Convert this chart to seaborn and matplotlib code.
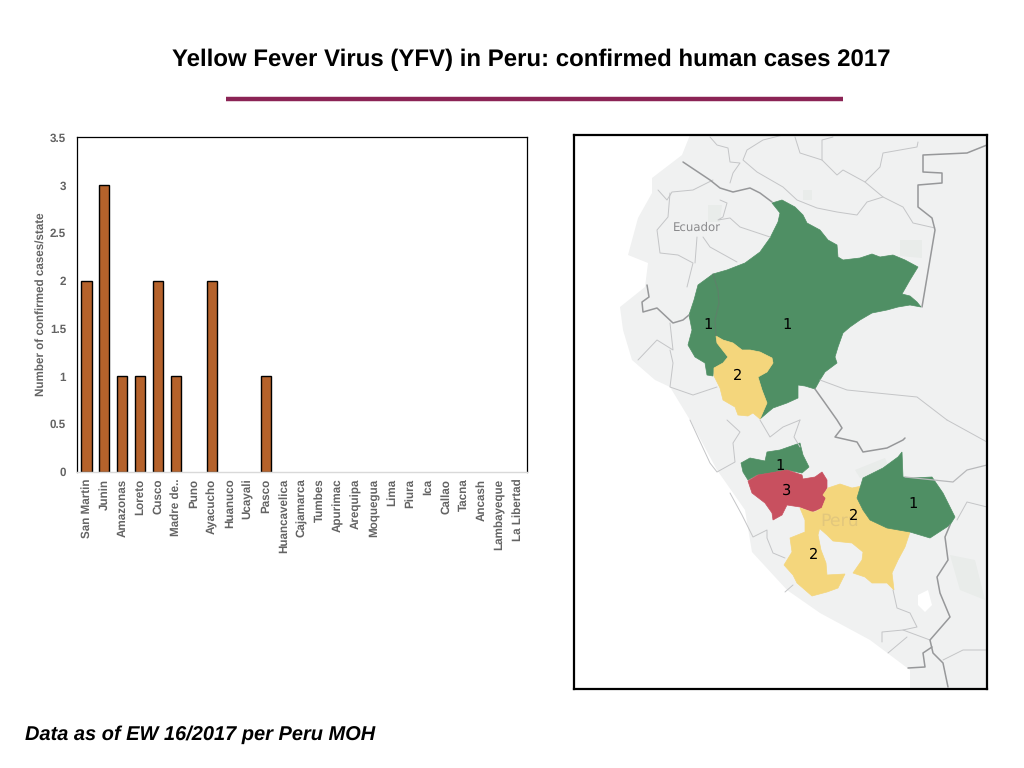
import numpy as np
import pandas as pd
import matplotlib.pyplot as plt
from matplotlib.lines import Line2D
from matplotlib.patches import Polygon
import seaborn as sns

states = ["San Martin", "Junin", "Amazonas", "Loreto", "Cusco", "Madre de..", "Puno", "Ayacucho",
          "Huanuco", "Ucayali", "Pasco", "Huancavelica", "Cajamarca", "Tumbes", "Apurimac", "Arequipa",
          "Moquegua", "Lima", "Piura", "Ica", "Callao", "Tacna", "Ancash", "Lambayeque", "La Libertad"]
cases = [2, 3, 1, 1, 2, 1, 0, 2, 0, 0, 1, 0, 0, 0, 0, 0, 0, 0, 0, 0, 0, 0, 0, 0, 0]
y_ticks = [0, 0.5, 1, 1.5, 2, 2.5, 3, 3.5]
y_tick_labels = ["0", "0.5", "1", "1.5", "2", "2.5", "3", "3.5"]

# map outlines, full image pixels
land = [(690, 135), (682, 155), (652, 178), (652, 193), (638, 218), (628, 255), (648, 263), (645, 287),
        (620, 307), (623, 330), (632, 360), (655, 380), (670, 387), (690, 420), (717, 470), (745, 510),
        (752, 552), (787, 590), (820, 613), (870, 640), (910, 670), (910, 689), (987, 689), (987, 135)]
amazonas_loreto = [(772, 203), (782, 200), (795, 207), (803, 215), (807, 223), (820, 230), (828, 240),
                   (837, 245), (838, 257), (843, 260), (860, 258), (872, 254), (880, 257), (893, 255),
                   (905, 260), (918, 267), (910, 280), (902, 294), (910, 296), (917, 302), (921, 307),
                   (910, 305), (898, 307), (887, 310), (872, 313), (860, 320), (850, 327), (843, 333),
                   (838, 347), (835, 357), (837, 363), (825, 372), (820, 380), (815, 389), (805, 386),
                   (798, 385), (798, 398), (787, 403), (773, 408), (767, 413), (760, 419), (767, 403),
                   (762, 390), (758, 377), (767, 372), (773, 363), (772, 358), (760, 352), (750, 350),
                   (742, 350), (733, 343), (723, 340), (716, 336), (717, 343), (728, 357), (723, 363),
                   (714, 368), (713, 376), (707, 375), (705, 363), (695, 357), (688, 345), (692, 330),
                   (689, 315), (694, 300), (698, 285), (713, 274), (727, 270), (745, 263), (760, 252),
                   (770, 238), (778, 222), (780, 213)]
amazonas_line = [(713, 274), (718, 290), (719, 303), (715, 320), (716, 336)]
san_martin = [(716, 336), (723, 340), (733, 343), (742, 350), (750, 350), (760, 352), (772, 358), (773, 363),
              (767, 372), (758, 377), (762, 390), (767, 403), (760, 419), (753, 413), (748, 416), (738, 415),
              (735, 407), (723, 400), (720, 388), (714, 376), (714, 368), (723, 363), (728, 357), (717, 343)]
pasco = [(741, 463), (750, 458), (765, 461), (767, 452), (780, 450), (800, 443), (803, 455), (809, 467),
         (802, 473), (787, 470), (770, 473), (757, 475), (748, 480), (743, 472)]
junin = [(748, 481), (758, 475), (770, 473), (787, 470), (802, 475), (803, 479), (815, 477), (822, 472),
         (827, 480), (827, 488), (823, 495), (826, 498), (822, 508), (812, 512), (800, 507), (787, 505),
         (782, 515), (773, 520), (772, 513), (765, 503), (752, 493)]
cusco = [(828, 488), (840, 484), (852, 488), (862, 486), (857, 498), (863, 510), (870, 520), (887, 528),
         (910, 532), (905, 547), (898, 560), (892, 573), (894, 590), (887, 583), (872, 583), (865, 577),
         (853, 573), (862, 560), (863, 552), (852, 543), (833, 541), (827, 535), (819, 528), (815, 512),
         (822, 508), (826, 498), (823, 495)]
ayacucho = [(800, 508), (812, 512), (815, 512), (820, 527), (818, 535), (821, 550), (826, 563), (827, 575),
            (845, 574), (838, 588), (827, 592), (812, 596), (797, 583), (793, 575), (784, 565), (792, 552),
            (790, 538), (805, 532), (805, 520)]
madre_de_dios = [(902, 452), (903, 477), (913, 478), (932, 477), (943, 493), (955, 517), (950, 525),
                 (930, 538), (910, 532), (887, 528), (870, 520), (863, 510), (857, 498), (863, 478),
                 (883, 468), (898, 457)]

# forest / snow patches on the base map
tint_patches = [[(855, 470), (885, 458), (890, 470), (860, 478)], [(900, 240), (922, 240), (922, 258), (900, 256)],
                [(803, 190), (812, 190), (812, 200), (803, 200)], [(950, 555), (975, 560), (985, 600), (960, 590)],
                [(708, 205), (722, 205), (720, 222), (708, 222)]]
snow_patch = [(918, 595), (928, 590), (932, 605), (925, 612), (918, 605)]

# region borders, full image pixels
thin_borders = [
    [(710, 137), (717, 145), (728, 148), (730, 162), (740, 163), (733, 173), (730, 183)],
    [(783, 135), (763, 140), (747, 150), (743, 160), (757, 172), (783, 187), (797, 200), (817, 208), (837, 212),
     (857, 215), (867, 202), (883, 197), (903, 207), (913, 223), (935, 228)],
    [(795, 137), (800, 153), (822, 160), (837, 175), (843, 170), (865, 182), (883, 197)],
    [(822, 160), (822, 140), (833, 137)],
    [(865, 182), (880, 167), (883, 153), (917, 147), (918, 142)],
    [(658, 190), (667, 200), (672, 192), (693, 190), (713, 180)],
    [(670, 193), (668, 217), (657, 230), (660, 253), (678, 255), (693, 263), (687, 287)],
    [(697, 237), (695, 263)],
    [(720, 200), (727, 203), (723, 217), (718, 220), (730, 218), (740, 227), (770, 237)],
    [(703, 237), (710, 247), (737, 262)],
    [(670, 323), (673, 350), (657, 340), (638, 360)],
    [(670, 350), (673, 363), (670, 387), (693, 395), (717, 387)],
    [(820, 380), (847, 390), (917, 397), (947, 420)],
    [(690, 420), (710, 463), (717, 472), (735, 462), (733, 443), (740, 432), (727, 420)],
    [(760, 420), (770, 437), (783, 427), (800, 420)],
    [(800, 420), (794, 437), (800, 447)],
    [(730, 493), (742, 515), (753, 537), (767, 530), (767, 538), (773, 553), (785, 558)],
    [(785, 592), (793, 585)],
    [(893, 590), (897, 608), (910, 613), (917, 627), (903, 630), (882, 632), (882, 642)],
    [(903, 630), (930, 640)],
    [(888, 653), (907, 637)],
    [(987, 650), (963, 650), (943, 660)],
    [(987, 507), (967, 502), (957, 520)],
    [(987, 442), (947, 420)],
]
dark_borders = [
    [(683, 162), (695, 170), (710, 180), (720, 188), (733, 192), (750, 188), (760, 193), (772, 202)],
    [(987, 145), (967, 153), (923, 155), (923, 172), (942, 173), (942, 183), (918, 185), (918, 207), (932, 218),
     (935, 230), (922, 307)],
    [(647, 285), (649, 297), (642, 302), (643, 312), (657, 308), (673, 323), (683, 320), (689, 315)],
    [(815, 389), (825, 403), (837, 420), (842, 428), (835, 437), (857, 442), (863, 452), (887, 448), (903, 440),
     (905, 438)],
    [(950, 525), (945, 537), (948, 560), (937, 577), (940, 593), (950, 617), (930, 640), (933, 653), (943, 663),
     (948, 687)],
    [(932, 647), (923, 653), (925, 667), (908, 668)],
]
light_rivers = [[(905, 477), (953, 482), (967, 470), (987, 465)]]

number_labels = [(708, 325, "1"), (787, 325, "1"), (738, 376, "2"), (780, 466, "1"), (787, 491, "3"),
                 (854, 516, "2"), (814, 555, "2"), (913, 504, "1")]

sns.set_theme(style="white")
plt.rcParams["font.family"] = ["Liberation Sans", "DejaVu Sans"]
plt.rcParams["text.hinting"] = "none"

fig = plt.figure(figsize=(10.24, 7.68), dpi=100)
W, H = 1024, 768


def box(left, top, right, bottom):
    return [left / W, 1 - bottom / H, (right - left) / W, (bottom - top) / H]


# bar chart
ax = fig.add_axes(box(77.3, 137.3, 526.7, 471.7))
df = pd.DataFrame({"state": states, "cases": cases})
sns.barplot(data=df, x="state", y="cases", color="#b5622b", saturation=1, width=0.58,
            edgecolor="black", linewidth=1, ax=ax)
for bar in ax.patches:
    if bar.get_height() == 0:
        bar.set_visible(False)
ax.set_xlim(-0.5, len(states) - 0.5)
ax.set_ylim(0, 3.5)
ax.set_yticks(y_ticks, y_tick_labels)
ax.set_xlabel("")
ax.set_ylabel("Number of confirmed cases/state", fontsize=8.4, fontweight="bold", color="#636363", labelpad=2.5)
ax.tick_params(axis="y", length=0, labelsize=8.4, labelcolor="#636363", pad=8)
ax.tick_params(axis="x", length=0, labelsize=8.4, labelcolor="#636363", pad=5)
for lab in ax.get_xticklabels():
    lab.set_rotation(90)
    lab.set_fontweight("bold")
for lab in ax.get_yticklabels():
    lab.set_fontweight("bold")
for side in ["top", "left", "right"]:
    ax.spines[side].set_color("black")
    ax.spines[side].set_linewidth(0.9)
ax.spines["bottom"].set_color("#d9d9d9")
ax.spines["bottom"].set_linewidth(1)

# map panel
m = fig.add_axes(box(574, 135, 987, 689))
m.set_xlim(574, 987)
m.set_ylim(689, 135)
m.set_xticks([])
m.set_yticks([])
m.add_patch(Polygon(land, closed=True, facecolor="#f0f1f1", edgecolor="none"))
for patch in tint_patches:
    m.add_patch(Polygon(patch, closed=True, facecolor="#e9ecea", edgecolor="none"))
m.add_patch(Polygon(snow_patch, closed=True, facecolor="white", edgecolor="none"))
for line in thin_borders:
    xs, ys = zip(*line)
    m.plot(xs, ys, color="#c4c5c7", lw=0.7)
for line in light_rivers:
    xs, ys = zip(*line)
    m.plot(xs, ys, color="#b8b9bb", lw=0.9)
for line in dark_borders:
    xs, ys = zip(*line)
    m.plot(xs, ys, color="#97989a", lw=1.1)
for poly, col in [(amazonas_loreto, "#4f8f64"), (san_martin, "#f4d67c"), (pasco, "#4f8f64"),
                  (junin, "#c8505f"), (cusco, "#f4d67c"), (ayacucho, "#f4d67c"), (madre_de_dios, "#4f8f64")]:
    m.add_patch(Polygon(poly, closed=True, facecolor=col, edgecolor=col, lw=0.5))
xs, ys = zip(*amazonas_line)
m.plot(xs, ys, color="#5f7f6a", lw=0.7)
m.text(697, 228, "Ecuador", fontsize=8.5, color="#8a8a8c", ha="center", va="center", family="DejaVu Sans")
m.text(840, 521, "Peru", fontsize=12.5, color="#e2c77c", ha="center", va="center", family="DejaVu Sans")
for x, y, s in number_labels:
    m.text(x, y, s, fontsize=10.5, color="black", ha="center", va="center", family="DejaVu Sans")
for side in m.spines.values():
    side.set_color("black")
    side.set_linewidth(1.6)

fig.text(531 / W, 1 - 60 / H, "Yellow Fever Virus (YFV) in Peru: confirmed human cases 2017",
         fontsize=17.3, fontweight="bold", color="black", ha="center", va="center")
fig.add_artist(Line2D([226 / W, 843 / W], [1 - 99 / H, 1 - 99 / H], color="#8b2455", lw=3.2,
                      solid_capstyle="butt"))
fig.text(25 / W, 1 - 735 / H, "Data as of EW 16/2017 per Peru MOH", fontsize=14.4, fontweight="bold",
         fontstyle="italic", color="black", ha="left", va="center")

fig.savefig("out.png", dpi=100)
